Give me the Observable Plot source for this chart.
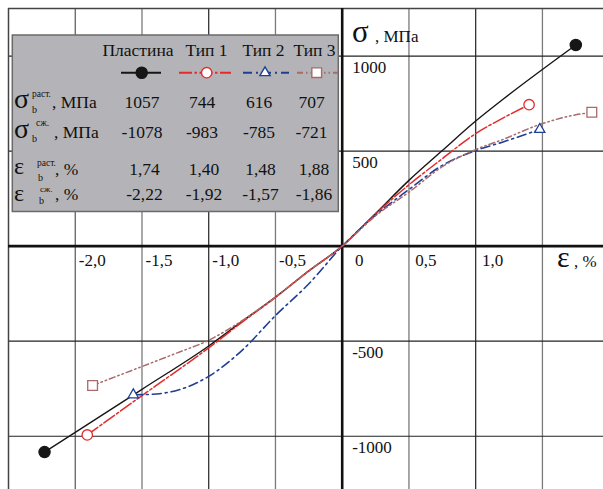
<!DOCTYPE html>
<html><head><meta charset="utf-8">
<script src="https://cdn.jsdelivr.net/npm/d3@7"></script>
<script src="https://cdn.jsdelivr.net/npm/@observablehq/plot@0.6"></script>
<style>body{margin:0;background:#fff} svg{display:block}</style>
</head><body><div id="chart"></div>
<script>
// ---- data ----
const seriesNames = ["Пластина", "Тип 1", "Тип 2", "Тип 3"];
const plateEps = [-2.23, -2.0, -1.5, -1.0, -0.75, -0.5, -0.25, 0, 0.25, 0.5, 0.75, 1.0, 1.2, 1.75];
const plateSig = [-1083, -980, -753, -525, -396, -268, -130, 0, 172, 346, 503, 658, 770, 1058];
const type1Eps = [-1.91, -1.5, -1.0, -0.75, -0.5, -0.25, 0, 0.25, 0.5, 0.75, 1.0, 1.2, 1.40];
const type1Sig = [-993, -786, -535, -400, -270, -130, 0, 170, 323, 460, 592, 672, 744];
const type2Eps = [-1.565, -1.45, -1.24, -1.0, -0.75, -0.5, -0.25, 0, 0.25, 0.5, 0.75, 1.0, 1.2, 1.48];
const type2Sig = [-782, -780, -759, -685, -548, -365, -198, 0, 163, 298, 425, 503, 547, 614];
const type3Eps = [-1.87, -1.5, -1.25, -1.0, -0.75, -0.5, -0.25, 0, 0.25, 0.5, 0.75, 1.0, 1.2, 1.48, 1.73, 1.87];
const type3Sig = [-733, -633, -565, -495, -392, -268, -130, 0, 160, 284, 418, 508, 560, 640, 688, 704];

const tableSigT = ["1057", "744", "616", "707"];
const tableSigC = ["-1078", "-983", "-785", "-721"];
const tableEpsT = ["1,74", "1,40", "1,48", "1,88"];
const tableEpsC = ["-2,22", "-1,92", "-1,57", "-1,86"];

const xTicks = [-2.0, -1.5, -1.0, -0.5, 0, 0.5, 1.0];
const xTickLabels = ["-2,0", "-1,5", "-1,0", "-0,5", "0", "0,5", "1,0"];
const yTicks = [1000, 500, -500, -1000];
const yTickLabels = ["1000", "500", "-500", "-1000"];

// ---- styles ----
const FONT = "'Liberation Serif', 'DejaVu Serif', serif";
const styles = [
  {color: "#161616", dash: null, width: 1.4, symbol: "circle", fill: "#161616", r: 5.6},
  {color: "#e32b2b", dash: "13,2.5,2.5,2.5", width: 1.5, symbol: "circle", fill: "white", r: 5.2},
  {color: "#1f3f95", dash: "9,4,2,4", width: 1.6, symbol: "triangle", fill: "white", r: 3.8},
  {color: "#a86a6a", dash: "6,3,1.5,3,1.5,3", width: 1.5, symbol: "square", fill: "white", r: 5.5}
];
const epsArrays = [plateEps, type1Eps, type2Eps, type3Eps];
const sigArrays = [plateSig, type1Sig, type2Sig, type3Sig];
const series = seriesNames.map((name, i) => epsArrays[i].map((e, j) => ({name, eps: e, sig: sigArrays[i][j]})));
const ends = series.map(s => [s[0], s[s.length - 1]]);

const W = 603, H = 489;
const marks = [
  Plot.ruleX([-1.5, -0.5, 0.5, 1.5], {stroke: "#7a7a7a", strokeWidth: 1.3}),
  Plot.ruleX([-2.0], {stroke: "#555", strokeWidth: 1.2}),
  Plot.ruleX([-1.0, 1.0], {stroke: "#222", strokeWidth: 1.2}),
  Plot.ruleY([-1000, -500, 500, 1000], {stroke: "#222", strokeWidth: 1.2}),
  Plot.ruleX([-2.5], {stroke: "#444", strokeWidth: 1.5}),
  Plot.ruleY([1250], {stroke: "#444", strokeWidth: 1.5}),
  Plot.ruleX([0], {stroke: "#111", strokeWidth: 2.6}),
  Plot.ruleY([0], {stroke: "#111", strokeWidth: 2.6}),
  Plot.text(xTicks, {x: d => d, y: 0, text: (d, i) => xTickLabels[i], dx: 17, dy: 14, textAnchor: "middle", fontSize: 17, fill: "#111"}),
  Plot.text(yTicks, {x: 0, y: d => d, text: (d, i) => yTickLabels[i], dx: 10, dy: 11.5, textAnchor: "start", fontSize: 17, fill: "#111"})
];
series.forEach((s, i) => {
  const st = styles[i];
  marks.push(Plot.line(s, {x: "eps", y: "sig", stroke: st.color, strokeWidth: st.width, strokeDasharray: st.dash, curve: "monotone-x"}));
});
series.forEach((s, i) => {
  const st = styles[i];
  marks.push(Plot.dot(ends[i], {x: "eps", y: "sig", symbol: st.symbol, r: st.r, fill: st.fill, stroke: st.color, strokeWidth: 1.3}));
});

const plot = Plot.plot({
  width: W, height: H,
  marginLeft: 8, marginTop: 8, marginRight: 0, marginBottom: 0,
  x: {domain: [-2.5, 1.9575], axis: null},
  y: {domain: [-1280, 1250], axis: null},
  style: {fontFamily: FONT, background: "white", overflow: "hidden"},
  marks
});
document.getElementById("chart").appendChild(plot);

// ---- overlay: axis titles and table legend ----
const svg = d3.select(plot);
const g = svg.append("g").attr("font-family", FONT).attr("fill", "#111").attr("text-anchor", "start");

// axis titles
g.append("text").attr("x", 352).attr("y", 41.5).attr("font-size", 31).text("σ");
g.append("text").attr("x", 375).attr("y", 41.5).attr("font-size", 17).text(", МПа");
g.append("text").attr("x", 557).attr("y", 266.5).attr("font-size", 30).text("ε");
g.append("text").attr("x", 574).attr("y", 266.5).attr("font-size", 17).text(", %");

// table box
const tb = g.append("g");
tb.append("rect").attr("x", 12.3).attr("y", 35).attr("width", 326).attr("height", 176.5)
  .attr("fill", "#b4b4b8").attr("stroke", "#6a6a6a").attr("stroke-width", 1.5);

const headCenters = [138, 206.5, 263.5, 314.5];
seriesNames.forEach((n, i) => {
  tb.append("text").attr("x", headCenters[i]).attr("y", 56).attr("text-anchor", "middle").attr("font-size", 17.5).text(n);
});
// legend samples
const sampleX = [[121, 161], [179, 231], [243, 289], [297, 338]];
const symCx = [141.7, 206.7, 265, 316.7];
const symMap = {circle: d3.symbolCircle, triangle: d3.symbolTriangle, square: d3.symbolSquare};
styles.forEach((st, i) => {
  tb.append("line").attr("x1", sampleX[i][0]).attr("x2", sampleX[i][1]).attr("y1", 72.7).attr("y2", 72.7)
    .attr("stroke", st.color).attr("stroke-width", 2).attr("stroke-dasharray", st.dash);
  tb.append("path").attr("transform", `translate(${symCx[i]},${72.7})`)
    .attr("d", d3.symbol(symMap[st.symbol], Math.PI * st.r * st.r)())
    .attr("fill", st.fill).attr("stroke", st.color).attr("stroke-width", 1.4);
});

// row labels
function rowLabel(sym, symSize, symBase, sup, supX, supY, supSize, subX, subY, tail, tailX, base) {
  tb.append("text").attr("x", 14).attr("y", symBase).attr("font-size", symSize).text(sym);
  tb.append("text").attr("x", supX).attr("y", supY).attr("font-size", supSize).text(sup);
  tb.append("text").attr("x", subX).attr("y", subY).attr("font-size", 10).text("b");
  tb.append("text").attr("x", tailX).attr("y", base).attr("font-size", 17.5).text(tail);
}
rowLabel("σ", 28, 108.3, "раст.", 32, 97.3, 9.5, 32, 113.3, ", МПа", 52, 108.3);
rowLabel("σ", 28, 138.3, "сж.", 36, 126, 9.5, 32, 141.7, ", МПа", 54, 138.3);
rowLabel("ε", 24, 173.5, "раст.", 37, 165.5, 9.5, 38, 181, ", %", 55, 175);
rowLabel("ε", 24, 201, "сж.", 40, 191.5, 9, 39, 204, ", %", 55, 200);

const colA = [142, 202, 259, 311.5];
const colB = [144.5, 204, 260.5, 314];
[[tableSigT, colA, 108.3], [tableSigC, colA, 138.3], [tableEpsT, colB, 175], [tableEpsC, colB, 200]].forEach(([vals, cols, y]) => {
  vals.forEach((v, i) => tb.append("text").attr("x", cols[i]).attr("y", y).attr("text-anchor", "middle").attr("font-size", 17.5).text(v));
});
</script>
</body></html>
